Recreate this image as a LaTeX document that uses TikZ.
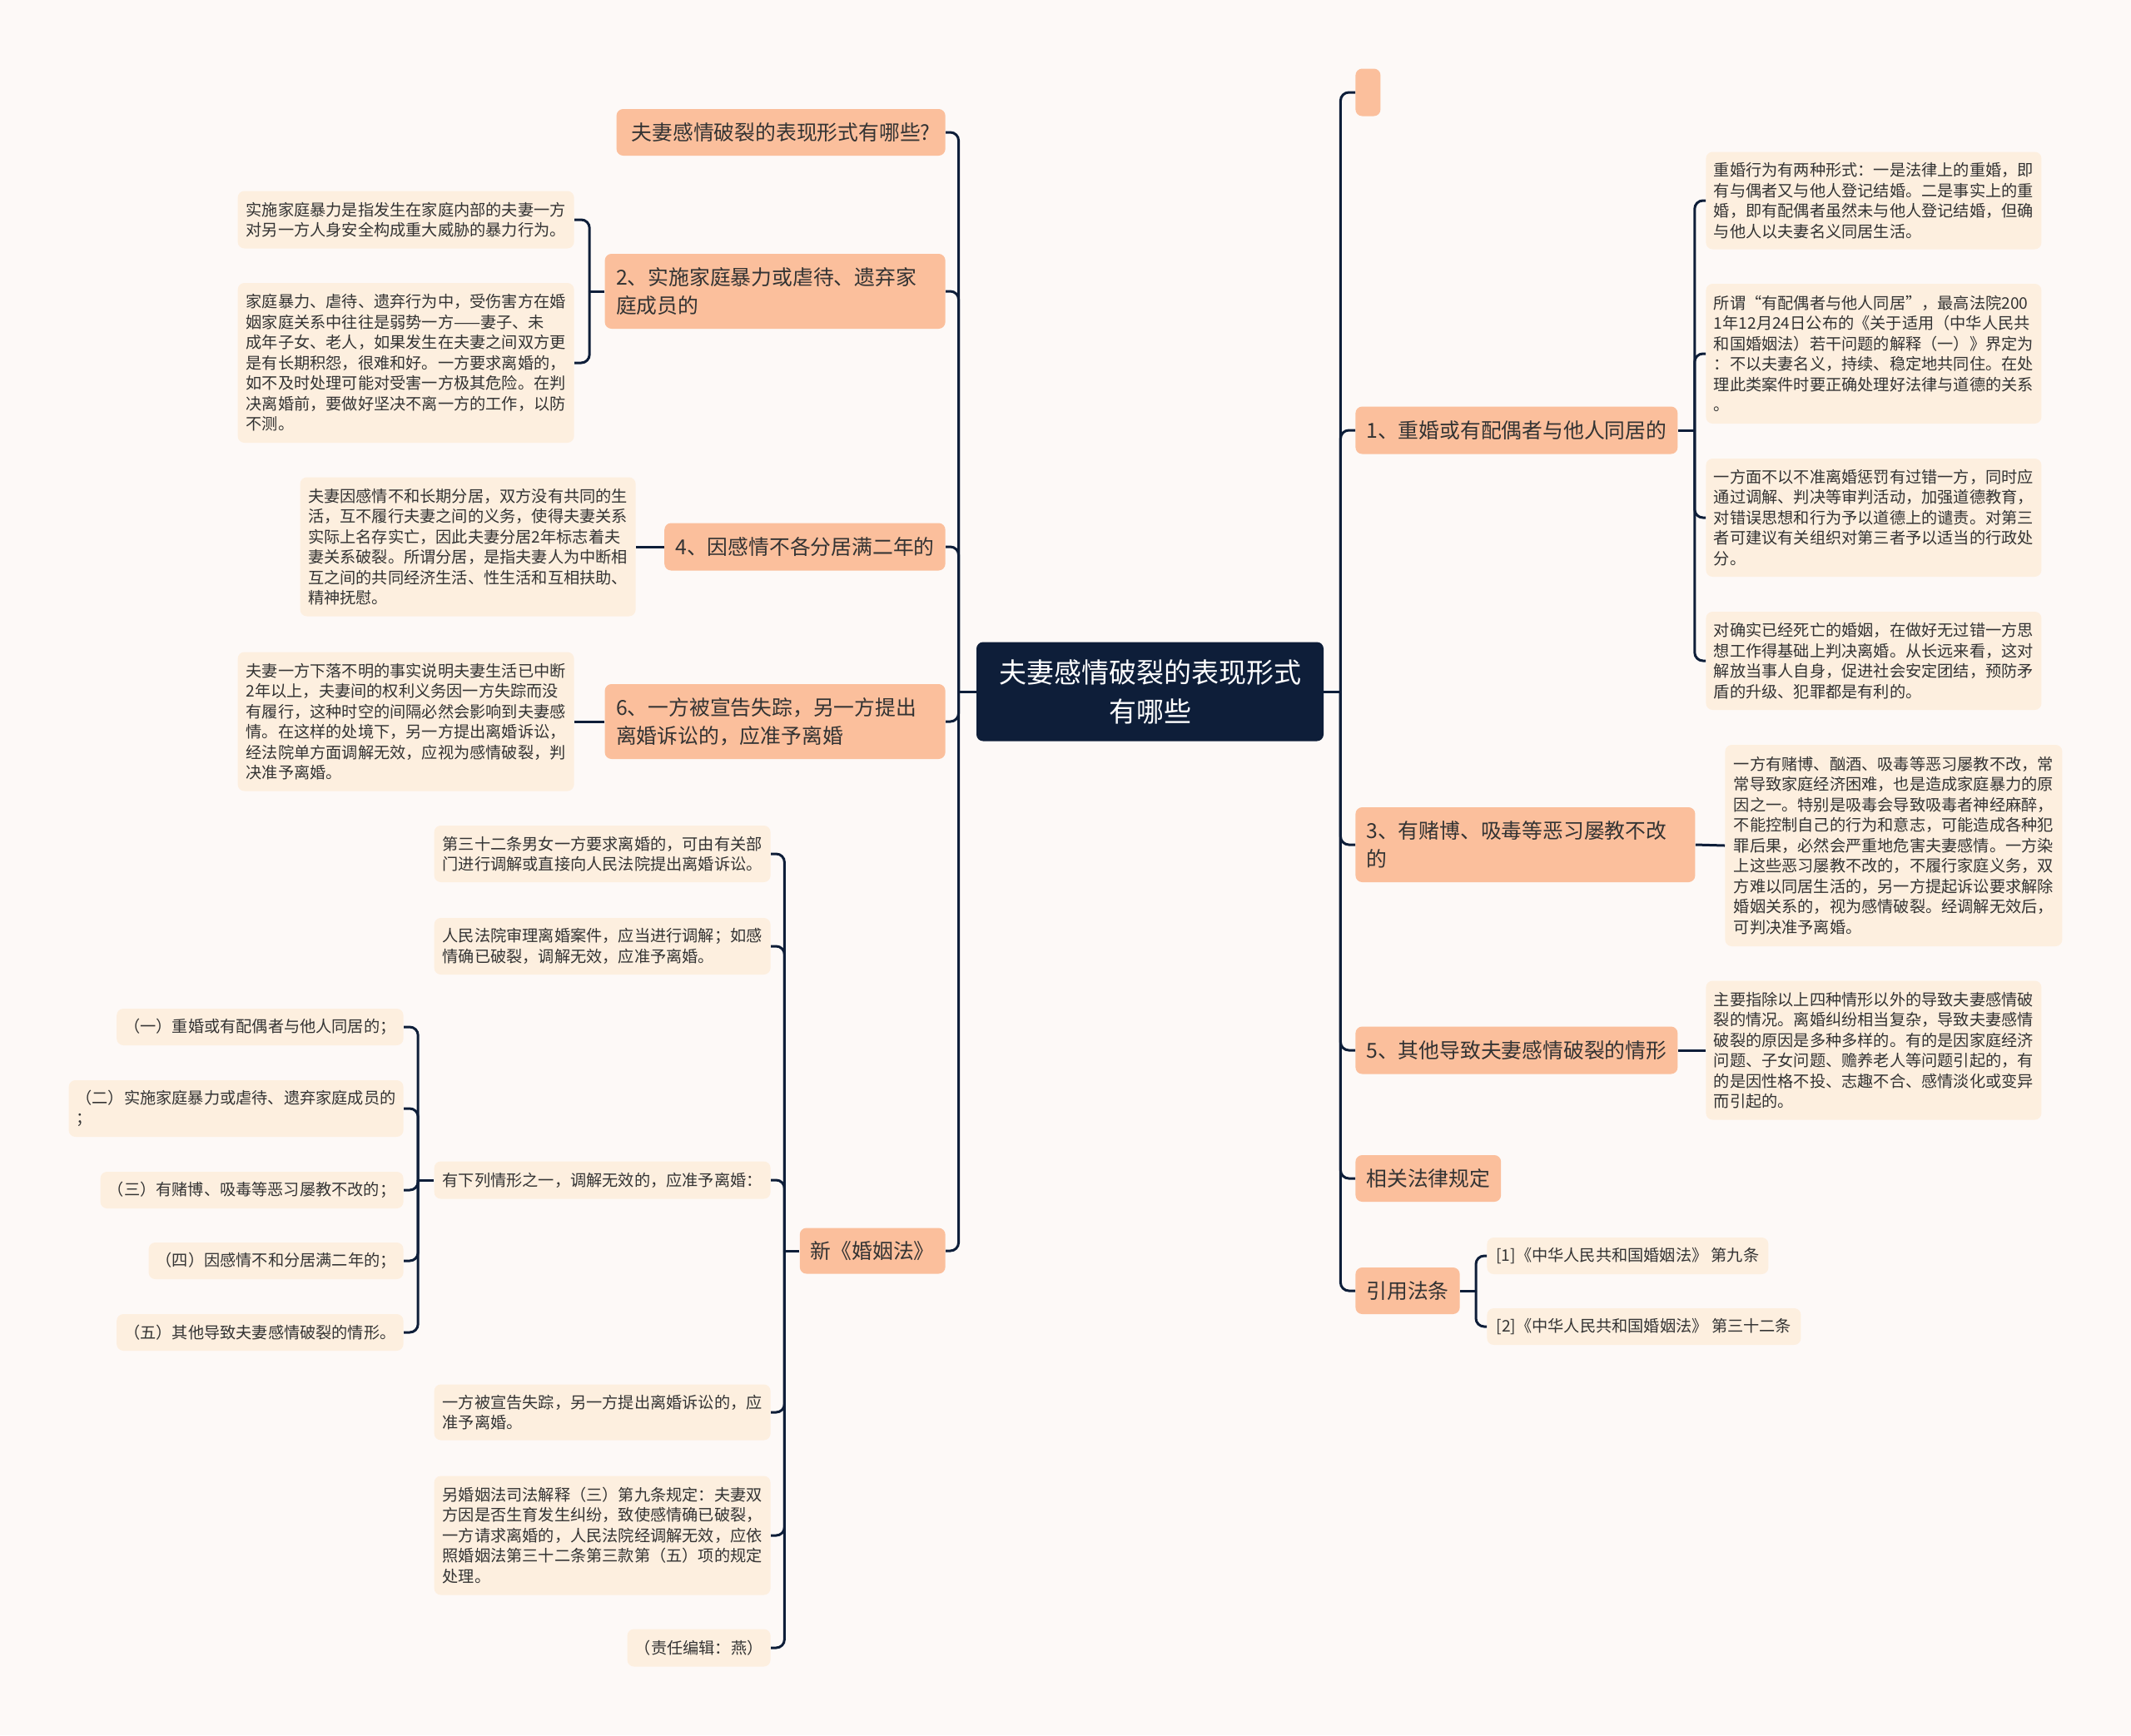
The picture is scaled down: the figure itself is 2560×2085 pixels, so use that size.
\documentclass[tikz,border=0pt]{standalone}
\usepackage{fontspec}
\setmainfont{Noto Sans CJK SC}
\usetikzlibrary{calc}
\definecolor{bgc}{HTML}{FDF9F7}
\definecolor{navy}{HTML}{0E1E39}
\definecolor{peach}{HTML}{FBBF9C}
\definecolor{cream}{HTML}{FDEFDF}
\definecolor{txt}{HTML}{333333}
\tikzset{
  wh/.style 2 args={minimum width={#1*0.5pt}, minimum height={#2*0.5pt}},
  conn/.style={draw=navy, line width=1.5pt, rounded corners=5pt},
  lone/.style={fill=peach, rounded corners=4pt, inner xsep=6.5pt, inner ysep=4pt,
    font=\fontsize{12.4pt}{17pt}\selectfont, text=txt, align=left},
  leaf/.style={fill=cream, rounded corners=4pt, inner xsep=4.5pt, inner ysep=4pt,
    font=\fontsize{9.6pt}{12.25pt}\selectfont, text=txt, align=left},
  rootbox/.style={fill=navy, rounded corners=4pt, text=white,
    font=\fontsize{16.5pt}{23.5pt}\selectfont, align=center},
}
\begin{document}
\begin{tikzpicture}[x=0.5pt,y=-0.5pt]
\fill[bgc] (0,0) rectangle (2560,2085);
\useasboundingbox (0,0) rectangle (2560,2085);

% root
\node[rootbox, wh={417}{119}] (root) at (1381.5,831) {夫妻感情破裂的表现形式\\有哪些};

% left level 1
\node[lone, wh={395}{56}, anchor=east] (L0) at (1136,159) {夫妻感情破裂的表现形式有哪些?};
\node[lone, wh={409}{90}, anchor=east, text width=191pt] (L2) at (1136,350) {2、实施家庭暴力或虐待、遗弃家\\庭成员的};
\node[lone, wh={335}{57}, anchor=east] (L4) at (1136,657) {4、因感情不各分居满二年的};
\node[lone, wh={409}{90}, anchor=east, text width=191pt] (L6) at (1136,867) {6、一方被宣告失踪，另一方提出\\离婚诉讼的，应准予离婚};
\node[lone, wh={172}{55}, anchor=east] (LN) at (1136,1503) {新《婚姻法》};

% left leaves
\node[leaf, wh={404}{69}, anchor=east] (la) at (690,264) {实施家庭暴力是指发生在家庭内部的夫妻一方\\对另一方人身安全构成重大威胁的暴力行为。};
\node[leaf, wh={404}{192}, anchor=east] (lb) at (690,436) {家庭暴力、虐待、遗弃行为中，受伤害方在婚\\姻家庭关系中往往是弱势一方——妻子、未\\成年子女、老人，如果发生在夫妻之间双方更\\是有长期积怨，很难和好。一方要求离婚的，\\如不及时处理可能对受害一方极其危险。在判\\决离婚前，要做好坚决不离一方的工作，以防\\不测。};
\node[leaf, wh={403}{167}, anchor=east] (l4) at (764,657) {夫妻因感情不和长期分居，双方没有共同的生\\活，互不履行夫妻之间的义务，使得夫妻关系\\实际上名存实亡，因此夫妻分居2年标志着夫\\妻关系破裂。所谓分居，是指夫妻人为中断相\\互之间的共同经济生活、性生活和互相扶助、\\精神抚慰。};
\node[leaf, wh={404}{167}, anchor=east] (l6) at (690,867) {夫妻一方下落不明的事实说明夫妻生活已中断\\2年以上，夫妻间的权利义务因一方失踪而没\\有履行，这种时空的间隔必然会影响到夫妻感\\情。在这样的处境下，另一方提出离婚诉讼，\\经法院单方面调解无效，应视为感情破裂，判\\决准予离婚。};

% new marriage law children
\node[leaf, wh={404}{68}, anchor=east] (c1) at (926,1026) {第三十二条男女一方要求离婚的，可由有关部\\门进行调解或直接向人民法院提出离婚诉讼。};
\node[leaf, wh={404}{68}, anchor=east] (c2) at (926,1137) {人民法院审理离婚案件，应当进行调解；如感\\情确已破裂，调解无效，应准予离婚。};
\node[leaf, wh={404}{45}, anchor=east] (c3) at (926,1418) {有下列情形之一，调解无效的，应准予离婚：};
\node[leaf, wh={404}{67}, anchor=east] (c4) at (926,1697) {一方被宣告失踪，另一方提出离婚诉讼的，应\\准予离婚。};
\node[leaf, wh={404}{143}, anchor=east] (c5) at (926,1845) {另婚姻法司法解释（三）第九条规定：夫妻双\\方因是否生育发生纠纷，致使感情确已破裂，\\一方请求离婚的，人民法院经调解无效，应依\\照婚姻法第三十二条第三款第（五）项的规定\\处理。};
\node[leaf, wh={172}{45}, anchor=east] (c6) at (926,1980) {（责任编辑：燕）};

\node[leaf, wh={343}{44}, anchor=east] (d1) at (485,1234) {（一）重婚或有配偶者与他人同居的；};
\node[leaf, wh={402}{68}, anchor=east] (d2) at (485,1332) {（二）实施家庭暴力或虐待、遗弃家庭成员的\\；};
\node[leaf, wh={364}{44}, anchor=east] (d3) at (485,1430) {（三）有赌博、吸毒等恶习屡教不改的；};
\node[leaf, wh={305}{44}, anchor=east] (d4) at (485,1515) {（四）因感情不和分居满二年的；};
\node[leaf, wh={343}{44}, anchor=east] (d5) at (485,1601) {（五）其他导致夫妻感情破裂的情形。};

% right level 1
\node[lone, wh={30}{57}, anchor=west] (R0) at (1628,111) {};
\node[lone, wh={383}{57}, anchor=west] (R1) at (1628,517) {1、重婚或有配偶者与他人同居的};
\node[lone, wh={408}{90}, anchor=west, text width=191pt] (R3) at (1628,1015) {3、有赌博、吸毒等恶习屡教不改\\的};
\node[lone, wh={384}{57}, anchor=west] (R5) at (1628,1262) {5、其他导致夫妻感情破裂的情形};
\node[lone, wh={172}{56}, anchor=west] (Rlaw) at (1628,1416) {相关法律规定};
\node[lone, wh={122}{56}, anchor=west] (Rcite) at (1628,1551) {引用法条};

% right leaves
\node[leaf, wh={403}{117}, anchor=west] (e1) at (2049,241) {重婚行为有两种形式：一是法律上的重婚，即\\有与偶者又与他人登记结婚。二是事实上的重\\婚，即有配偶者虽然未与他人登记结婚，但确\\与他人以夫妻名义同居生活。};
\node[leaf, wh={403}{168}, anchor=west] (e2) at (2049,425) {所谓“有配偶者与他人同居”，最高法院200\\1年12月24日公布的《关于适用（中华人民共\\和国婚姻法）若干问题的解释（一）》界定为\\：不以夫妻名义，持续、稳定地共同住。在处\\理此类案件时要正确处理好法律与道德的关系\\。};
\node[leaf, wh={403}{142}, anchor=west] (e3) at (2049,622) {一方面不以不准离婚惩罚有过错一方，同时应\\通过调解、判决等审判活动，加强道德教育，\\对错误思想和行为予以道德上的谴责。对第三\\者可建议有关组织对第三者予以适当的行政处\\分。};
\node[leaf, wh={403}{118}, anchor=west] (e4) at (2049,794) {对确实已经死亡的婚姻，在做好无过错一方思\\想工作得基础上判决离婚。从长远来看，这对\\解放当事人自身，促进社会安定团结，预防矛\\盾的升级、犯罪都是有利的。};
\node[leaf, wh={405}{242}, anchor=west] (r3l) at (2072,1016) {一方有赌博、酗酒、吸毒等恶习屡教不改，常\\常导致家庭经济困难，也是造成家庭暴力的原\\因之一。特别是吸毒会导致吸毒者神经麻醉，\\不能控制自己的行为和意志，可能造成各种犯\\罪后果，必然会严重地危害夫妻感情。一方染\\上这些恶习屡教不改的，不履行家庭义务，双\\方难以同居生活的，另一方提起诉讼要求解除\\婚姻关系的，视为感情破裂。经调解无效后，\\可判决准予离婚。};
\node[leaf, wh={403}{167}, anchor=west] (r5l) at (2049,1262) {主要指除以上四种情形以外的导致夫妻感情破\\裂的情况。离婚纠纷相当复杂，导致夫妻感情\\破裂的原因是多种多样的。有的是因家庭经济\\问题、子女问题、赡养老人等问题引起的，有\\的是因性格不投、志趣不合、感情淡化或变异\\而引起的。};
\node[leaf, wh={338}{44}, anchor=west] (f1) at (1786,1509) {[1]《中华人民共和国婚姻法》 第九条};
\node[leaf, wh={377}{44}, anchor=west] (f2) at (1786,1594) {[2]《中华人民共和国婚姻法》 第三十二条};

% junctions
\coordinate (jL) at ([xshift=-10.5pt]root.west);
\coordinate (jR) at ([xshift=10pt]root.east);
\coordinate (j2) at ([xshift=-9pt]L2.west);
\coordinate (jN) at ([xshift=-9pt]LN.west);
\coordinate (j3) at ([xshift=-9.5pt]c3.west);
\coordinate (j1) at ([xshift=10pt]R1.east);
\coordinate (jC) at ([xshift=9.5pt]Rcite.east);

% connectors
\draw[conn] (root.west) -- (jL);
\foreach \n in {L0,L2,L4,L6,LN} \draw[conn] (jL) |- (\n.east);
\draw[conn] (root.east) -- (jR);
\foreach \n in {R0,R1,R3,R5,Rlaw,Rcite} \draw[conn] (jR) |- (\n.west);
\draw[conn] (L2.west) -- (j2);
\foreach \n in {la,lb} \draw[conn] (j2) |- (\n.east);
\draw[conn] (L4.west) -- (l4.east);
\draw[conn] (L6.west) -- (l6.east);
\draw[conn] (LN.west) -- (jN);
\foreach \n in {c1,c2,c3,c4,c5,c6} \draw[conn] (jN) |- (\n.east);
\draw[conn] (c3.west) -- (j3);
\foreach \n in {d1,d2,d3,d4,d5} \draw[conn] (j3) |- (\n.east);
\draw[conn] (R1.east) -- (j1);
\foreach \n in {e1,e2,e3,e4} \draw[conn] (j1) |- (\n.west);
\draw[conn] (R3.east) -- (r3l.west);
\draw[conn] (R5.east) -- (r5l.west);
\draw[conn] (Rcite.east) -- (jC);
\foreach \n in {f1,f2} \draw[conn] (jC) |- (\n.west);
\end{tikzpicture}
\end{document}
